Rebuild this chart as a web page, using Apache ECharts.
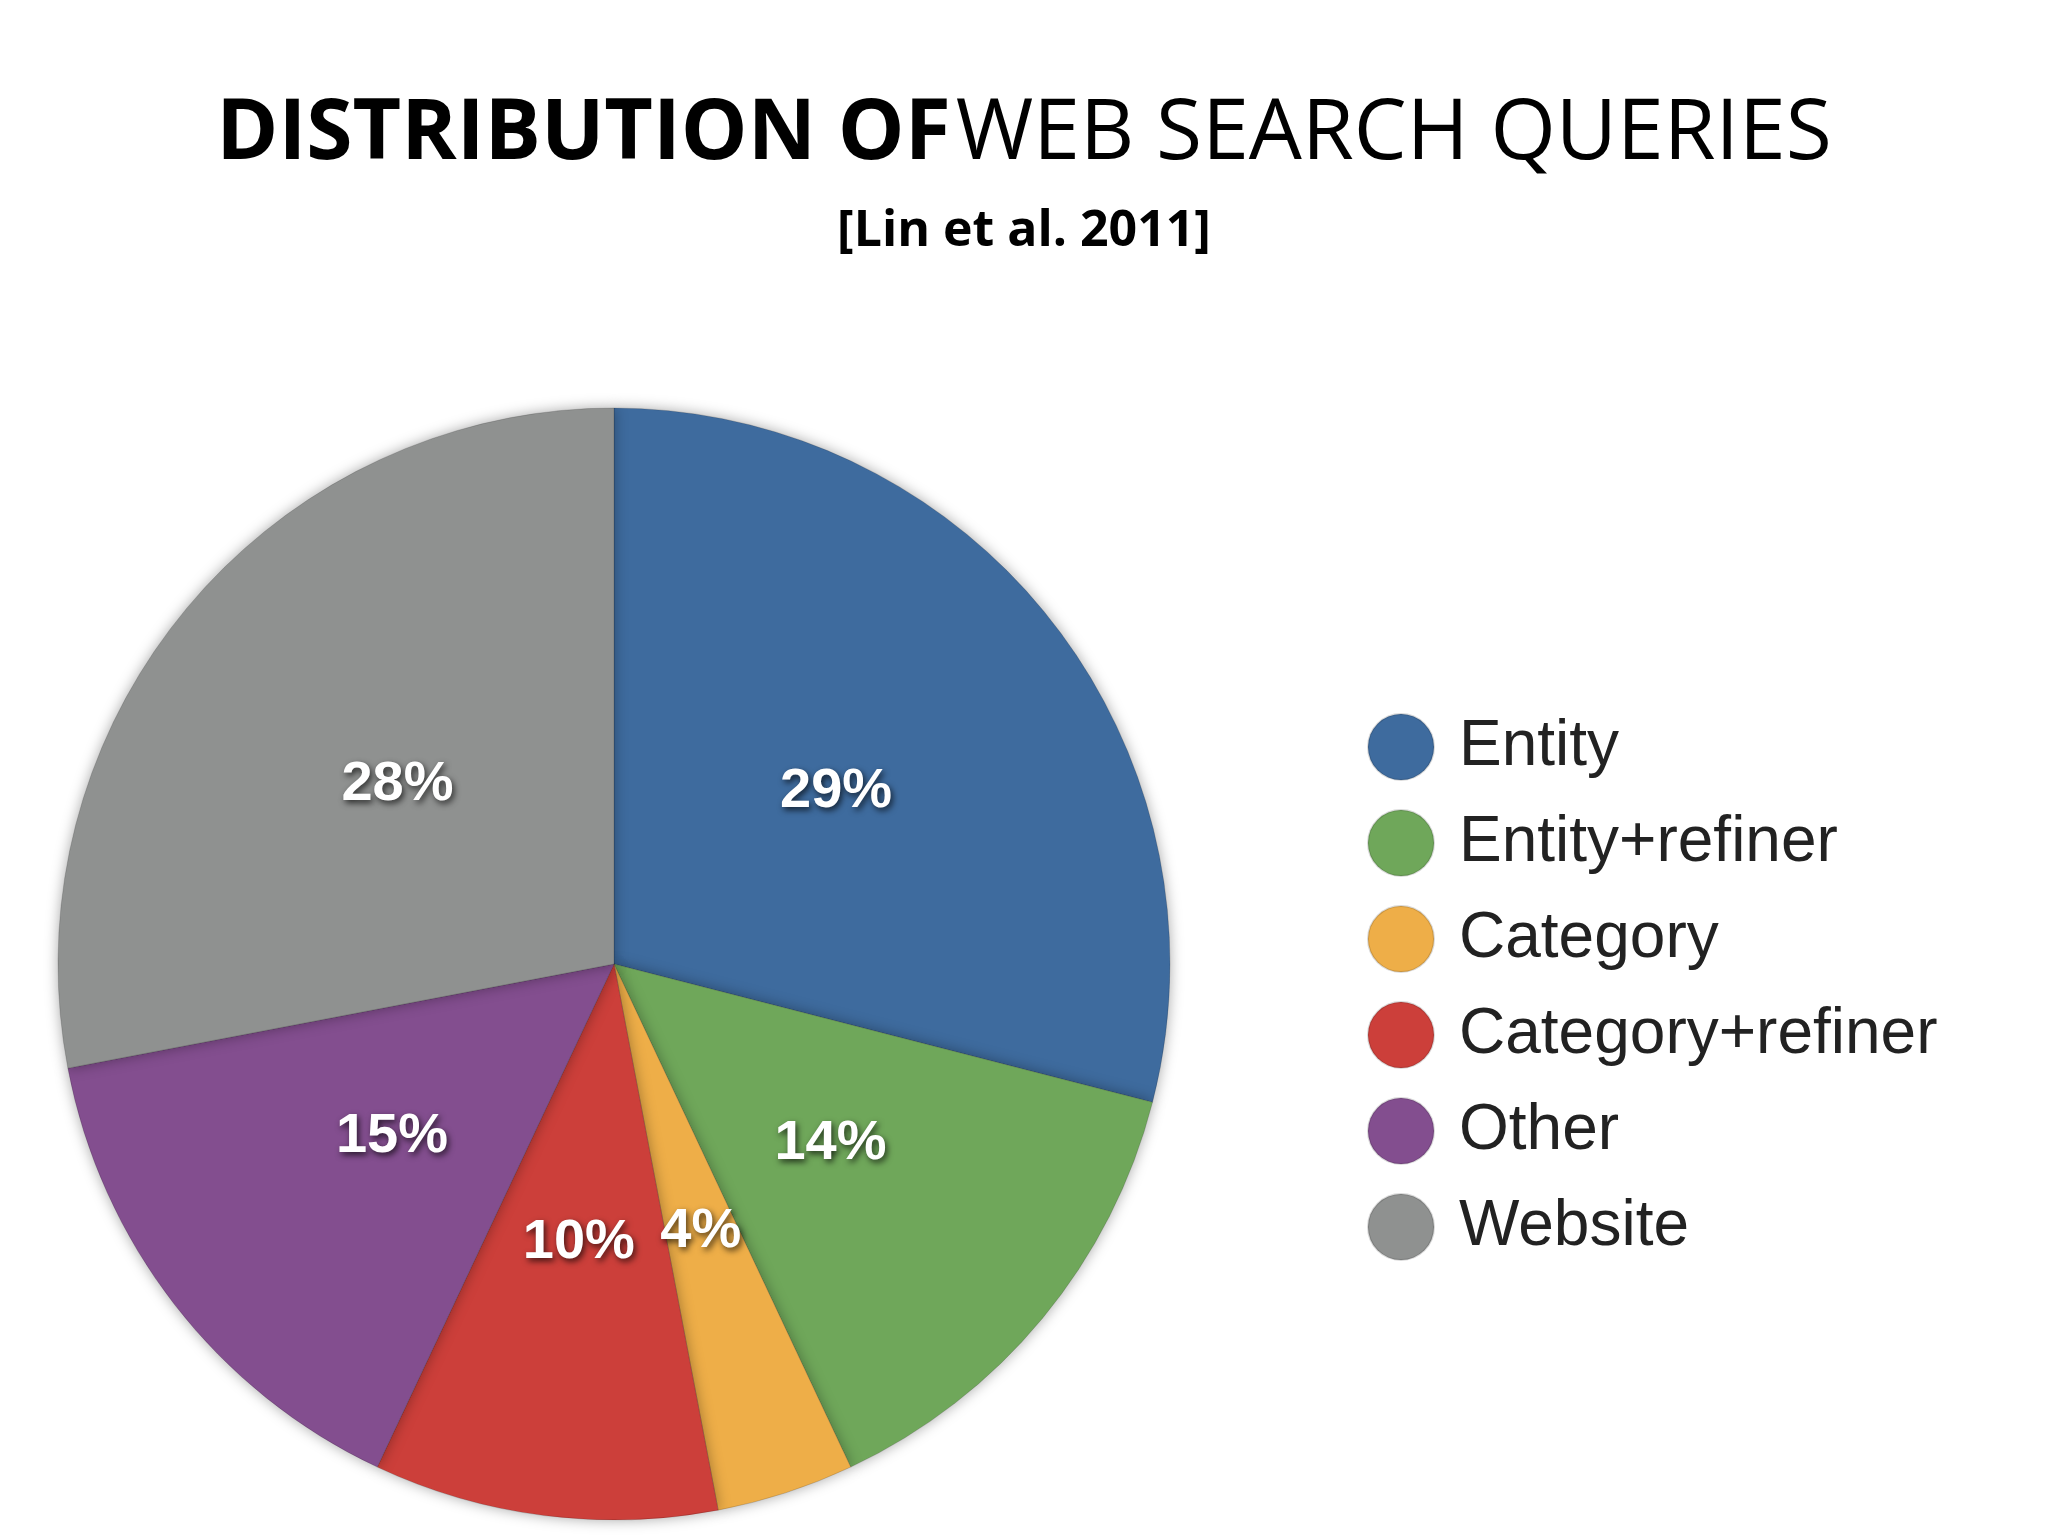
<!DOCTYPE html>
<html><head><meta charset="utf-8">
<script src="https://cdn.jsdelivr.net/npm/echarts@6/dist/echarts.min.js"></script>
<style>html,body{margin:0;background:#fff}#c{width:2048px;height:1536px}</style>
</head><body><div id="c"></div>
<script>
const categories=['Entity','Entity+refiner','Category','Category+refiner','Other','Website'];
const values=[29,14,4,10,15,28];
const colors=['#3e6b9e','#6fa75a','#eeae48','#cc3f3a','#834e8f','#8f9190'];
const chart=echarts.init(document.getElementById('c'));
chart.setOption({
  backgroundColor:'#fff',
  title:[{
    text:'{b|DISTRIBUTION OF} {r|WEB SEARCH QUERIES}',
    left:'center',top:88,
    textStyle:{rich:{
      b:{fontFamily:'Open Sans',fontWeight:'bold',fontSize:84,color:'#000'},
      r:{fontFamily:'Open Sans',fontWeight:'normal',fontSize:84,color:'#000'}}}
  },{
    text:'[Lin et al. 2011]',left:'center',top:202,
    textStyle:{fontFamily:'Open Sans',fontWeight:'bold',fontSize:50,color:'#000'}
  }],
  legend:{
    orient:'vertical',left:1362,top:708,itemGap:28,
    icon:'circle',itemWidth:66,itemHeight:66,
    textStyle:{fontFamily:'Liberation Sans',fontSize:64,color:'#222',padding:[0,0,0,20]},
    data:categories
  },
  series:[{
    type:'pie',center:[614,964],radius:556,startAngle:90,clockwise:true,
    color:colors,
    itemStyle:{borderColor:'rgba(0,0,0,0.15)',borderWidth:1,shadowBlur:14,shadowColor:'rgba(0,0,0,0.35)'},
    label:{position:'inside',formatter:'{c}%',fontFamily:'Liberation Sans',fontWeight:'bold',fontSize:56,
      color:'#fff',textShadowColor:'rgba(0,0,0,0.7)',textShadowBlur:6,textShadowOffsetX:2,textShadowOffsetY:3},
    labelLine:{show:false},
    emphasis:{disabled:true},
    data:categories.map((n,i)=>({name:n,value:values[i]}))
  }]
});
</script></body></html>
